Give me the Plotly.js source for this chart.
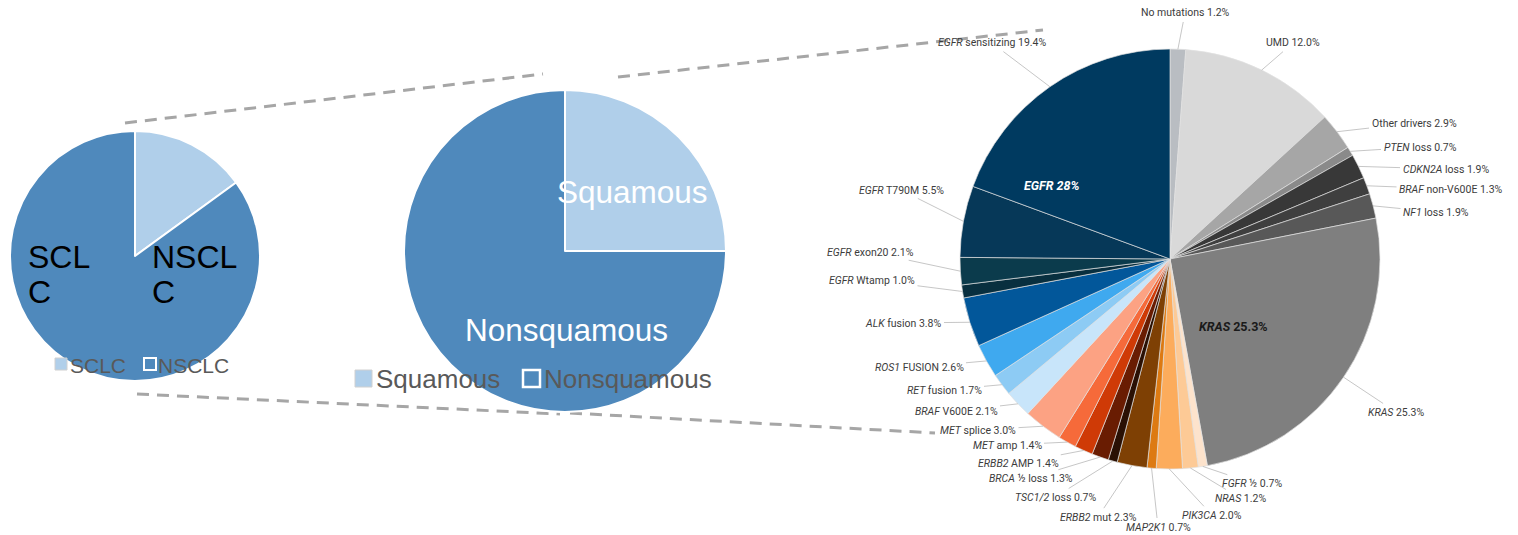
<!DOCTYPE html>
<html>
<head>
<meta charset="utf-8">
<script src="https://cdn.plot.ly/plotly-3.0.1.min.js"></script>
<style>html,body{margin:0;padding:0;background:#fff;}#chart{width:1518px;height:535px;}</style>
</head>
<body>
<div id="chart"></div>
<script>
// ---------- DATA ----------
const histLabels = ["SCLC", "NSCLC"];
const histValues = [15, 85];

const nsclcLabels = ["Squamous", "Nonsquamous"];
const nsclcValues = [25, 75];

const driverLabels = ["No mutations", "UMD", "Other drivers", "<i>PTEN</i> loss", "<i>CDKN2A</i> loss",
  "<i>BRAF</i> non-V600E", "<i>NF1</i> loss", "<i>KRAS</i>", "<i>FGFR</i> ½", "<i>NRAS</i>",
  "<i>PIK3CA</i>", "<i>MAP2K1</i>", "<i>ERBB2</i> mut", "<i>TSC1/2</i> loss", "<i>BRCA</i> ½ loss",
  "<i>ERBB2</i> AMP", "<i>MET</i> amp", "<i>MET</i> splice", "<i>BRAF</i> V600E", "<i>RET</i> fusion",
  "<i>ROS1</i> FUSION", "<i>ALK</i> fusion", "<i>EGFR</i> Wtamp", "<i>EGFR</i> exon20",
  "<i>EGFR</i> T790M", "<i>EGFR</i> sensitizing"];
const driverValues = [1.2, 12.0, 2.9, 0.7, 1.9, 1.3, 1.9, 25.3, 0.7, 1.2, 2.0, 0.7, 2.3, 0.7, 1.3,
  1.4, 1.4, 3.0, 2.1, 1.7, 2.6, 3.8, 1.0, 2.1, 5.5, 19.4];
const driverGroups = ["other","other","other","other","other","other","other","KRAS","other","other",
  "other","other","other","other","other","other","other","other","other","other","other","other",
  "EGFR","EGFR","EGFR","EGFR"];

// ---------- STYLE / LAYOUT ----------
const W = 1518, H = 535;
const driverColors = ["#b9bdc2", "#d9d9d9", "#a6a6a6", "#8a8a8a", "#383838", "#3f3f3f", "#585858",
  "#7f7f7f", "#fde3cc", "#fdca96", "#fcac5c", "#dd7a12", "#7e4004", "#2a1004", "#691c02",
  "#cf3a06", "#f66a3a", "#fca283", "#c8e5fa", "#8dcbf4", "#3fa9ef", "#02579a", "#082f3f",
  "#0b3b4c", "#063858", "#003a60"];
// label text centres (pixels) for the right pie
const driverLabelPos = [[1185,13],[1293,43],[1414,123],[1420,147],[1446,169],[1451,189],[1436,212],
  [1396,412],[1252,483],[1240,498],[1212,515],[1158,527],[1098,517],[1055,497],[1031,478],
  [1018,463],[1007,445],[978,430],[956,411],[944,390],[919,367],[903,323],[872,280],[870,252],
  [901,190],[992,43]];

const geo = {
  left:  {cx:135,  cy:256, r:125},
  mid:   {cx:565,  cy:251, r:161},
  right: {cx:1170, cy:259, r:210}
};
function dom(g){ return {x:[(g.cx-g.r)/W,(g.cx+g.r)/W], y:[1-(g.cy+g.r)/H, 1-(g.cy-g.r)/H]}; }
const px = x => x/W, py = y => 1 - y/H;

const light = "#b0cfea", dark = "#4f89bc";

const traces = [
  {type:"pie", labels:histLabels, values:histValues, sort:false, direction:"clockwise", rotation:0,
   domain:dom(geo.left), textinfo:"none", hoverinfo:"label+percent",
   marker:{colors:[light, dark], line:{color:"#ffffff", width:2}}, showlegend:false},
  {type:"pie", labels:nsclcLabels, values:nsclcValues, sort:false, direction:"clockwise", rotation:0,
   domain:dom(geo.mid), textinfo:"none", hoverinfo:"label+percent",
   marker:{colors:[light, dark], line:{color:"#ffffff", width:2}}, showlegend:false},
  {type:"pie", labels:driverLabels, values:driverValues, sort:false, direction:"clockwise", rotation:0,
   domain:dom(geo.right), textinfo:"none", hoverinfo:"label+value",
   marker:{colors:driverColors, line:{color:"rgba(225,225,225,0.85)", width:0.8}}, showlegend:false}
];

// ---------- ANNOTATIONS ----------
const ann = [];
const total = driverValues.reduce((a,b)=>a+b,0);
let cum = 0;
const g = geo.right;
function pt(frac, rr){ const t = frac*2*Math.PI; return [g.cx + rr*Math.sin(t), g.cy - rr*Math.cos(t)]; }
driverValues.forEach((v,i)=>{
  const mid = (cum + v/2)/total;
  const tip = pt(mid, g.r);
  const lp = driverLabelPos[i];
  ann.push({xref:"paper", yref:"paper", x:px(tip[0]), y:py(tip[1]), ax:lp[0]-tip[0], ay:lp[1]-tip[1],
    text: driverLabels[i] + " " + v.toFixed(1) + "%", showarrow:true, arrowhead:0, arrowwidth:0.8,
    arrowcolor:"#b8b8b8", standoff:0, startstandoff:1,
    font:{family:"Roboto, sans-serif", size:10.5, color:"#3c3c3c"}});
  cum += v;
});
// group labels inside right pie
function groupLabel(name, rr, color, fmtItalicAll){
  let s=0, start=null, c=0;
  driverValues.forEach((v,i)=>{ if(driverGroups[i]===name){ if(start===null) start=c; s+=v; } c+=v; });
  const mid = (start + s/2)/total;
  const p = pt(mid, rr*g.r);
  const txt = fmtItalicAll ? "<b><i>"+name+" "+parseFloat(s.toFixed(1))+"%</i></b>"
                           : "<b><i>"+name+"</i> "+s.toFixed(1)+"%</b>";
  ann.push({xref:"paper", yref:"paper", x:px(p[0]), y:py(p[1]), text:txt, showarrow:false,
    font:{family:"Roboto, sans-serif", size:12.5, color:color}});
}
groupLabel("EGFR", 0.55, "#ffffff", true);
groupLabel("KRAS", 0.575, "#1a1a1a", false);

const big = {family:"Liberation Sans, Arial, sans-serif", size:32, color:"#000000"};
function txt(x,y,t,font,xanchor){ ann.push({xref:"paper", yref:"paper", x:px(x), y:py(y), text:t, showarrow:false,
  xanchor:xanchor||"left", yanchor:"middle", font:font}); }
// left pie in-slice labels
txt(26,257,"SCL",big); txt(26,292,"C",big);
txt(150,257,"NSCL",big); txt(150,292,"C",big);
// middle pie in-slice labels
const midFont = {family:"Liberation Sans, Arial, sans-serif", size:31.5, color:"#ffffff"};
txt(632,192,nsclcLabels[0],midFont,"center");
txt(566,330,nsclcLabels[1],midFont,"center");
// legends
const legL = {family:"Liberation Sans, Arial, sans-serif", size:21, color:"#595959"};
txt(68,365,histLabels[0],legL); txt(156,365,histLabels[1],legL);
const legM = {family:"Liberation Sans, Arial, sans-serif", size:26, color:"#595959"};
txt(374,379,nsclcLabels[0],legM); txt(542,379,nsclcLabels[1],legM);

// ---------- SHAPES ----------
const dash = {color:"#a6a6a6", width:3, dash:"12px,8px"};
function seg(x0,y0,x1,y1){ return {type:"line", xref:"paper", yref:"paper", x0:px(x0), y0:py(y0), x1:px(x1), y1:py(y1), line:dash, layer:"below"}; }
function sq(x0,y0,x1,y1,fill,lc,lw){ return {type:"rect", xref:"paper", yref:"paper", x0:px(x0), y0:py(y0), x1:px(x1), y1:py(y1), fillcolor:fill, line:{color:lc,width:lw}, layer:"above"}; }
const shapes = [
  seg(125,123,543,74), seg(618,77,1043,30), seg(137,394,560,414), seg(570,413,935,433),
  sq(55,358,67,370,light,"#d0d0d0",1), sq(144,358,156,370,dark,"#ffffff",2),
  sq(355,370,372,387,light,"#d0d0d0",1), sq(523,370,540,387,dark,"#ffffff",2.5)
];

const layout = {width:W, height:H, margin:{l:0,r:0,t:0,b:0}, paper_bgcolor:"#ffffff",
  showlegend:false, annotations:ann, shapes:shapes};
Plotly.newPlot("chart", traces, layout, {displayModeBar:false, staticPlot:true});
</script>
</body>
</html>
